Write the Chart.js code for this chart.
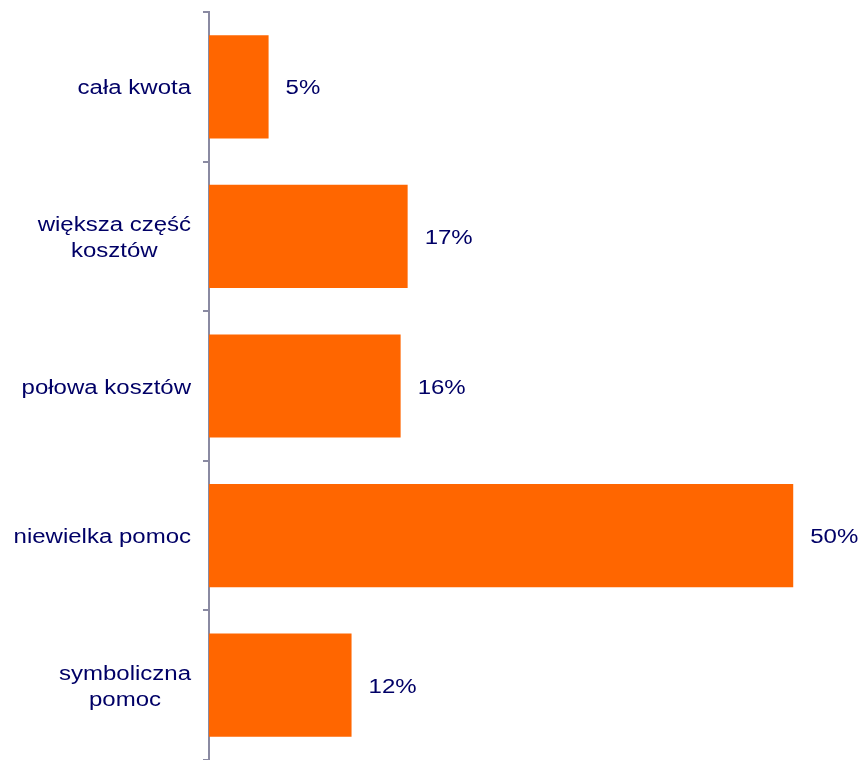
<!DOCTYPE html>
<html>
<head>
<meta charset="utf-8">
<script src="https://cdn.jsdelivr.net/npm/chart.js@4"></script>
<style>
  html, body { margin: 0; padding: 0; background: #fff; }
  #wrap { width: 861px; height: 760px; }
</style>
</head>
<body>
<div id="wrap"><canvas id="myBarChart" width="861" height="760"></canvas></div>
<script>
// chart values
var categories = [
    ['cała kwota'],
    ['większa część', 'kosztów'],
    ['połowa kosztów'],
    ['niewielka pomoc'],
    ['symboliczna', 'pomoc']
];
var shares = [5.1, 17.0, 16.4, 50.0, 12.2];

var navy = '#000066';
var axisGrey = '#8a8aa2';
var textFont = '20px "Liberation Sans", Arial, sans-serif';
var stretch = 1.2; // the original text is a bit wider than plain Arial

function wideText(ctx, txt, x, y, align) {
    ctx.save();
    ctx.translate(x, y);
    ctx.scale(stretch, 1);
    ctx.textAlign = align;
    ctx.fillText(txt, 0, 0);
    ctx.restore();
}

// category names on the left and "xx%" to the right of each bar
var textLabels = {
    id: 'textLabels',
    afterDatasetsDraw: function (chart) {
        var ctx = chart.ctx;
        var yScale = chart.scales.y;
        var meta = chart.getDatasetMeta(0);
        var right = yScale.right - 18;
        ctx.save();
        ctx.font = textFont;
        ctx.fillStyle = navy;
        ctx.textBaseline = 'middle';
        categories.forEach(function (lines, i) {
            var cy = yScale.getPixelForTick(i) + 2;
            var lh = 26;
            var y0 = cy - (lines.length - 1) * lh / 2;
            var maxW = 0;
            lines.forEach(function (line) {
                maxW = Math.max(maxW, ctx.measureText(line).width * stretch);
            });
            lines.forEach(function (line, j) {
                wideText(ctx, line, right - maxW / 2, y0 + j * lh, 'center');
            });
        });
        meta.data.forEach(function (bar, i) {
            wideText(ctx, Math.round(shares[i]) + '%', bar.x + 17, bar.y + 2, 'left');
        });
        ctx.restore();
    }
};

document.addEventListener('DOMContentLoaded', function () {
    var ctx = document.getElementById('myBarChart').getContext('2d');

    new Chart(ctx, {
        type: 'bar',
        data: {
            labels: categories,
            datasets: [{
                data: shares,
                backgroundColor: '#ff6600',
                borderWidth: 0,
                categoryPercentage: 1,
                barPercentage: 0.69
            }]
        },
        options: {
            indexAxis: 'y',
            responsive: false,
            animation: false,
            layout: { padding: { top: 12, right: 0, bottom: 0, left: 0 } },
            plugins: {
                legend: { display: false },
                tooltip: { enabled: false }
            },
            scales: {
                x: {
                    display: false,
                    min: 0,
                    max: 55.8
                },
                y: {
                    afterFit: function (scale) {
                        scale.width = 209;
                        scale.paddingTop = 0;
                        scale.paddingBottom = 0;
                    },
                    grid: {
                        offset: true,
                        drawOnChartArea: false,
                        tickLength: 6,
                        color: axisGrey,
                        lineWidth: 2
                    },
                    border: { display: true, color: axisGrey, width: 2 },
                    ticks: { display: false }
                }
            }
        },
        plugins: [textLabels]
    });
});
</script>
</body>
</html>
